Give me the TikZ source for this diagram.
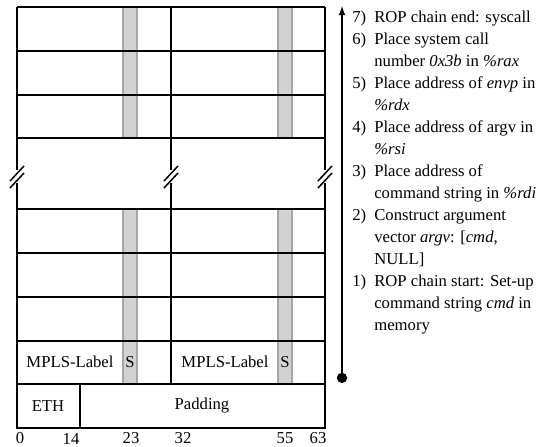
\documentclass[tikz,border=0pt]{standalone}
\usepackage{fontspec}
\setmainfont{Liberation Serif}
\usepackage{array}
\usetikzlibrary{positioning, arrows}
\tikzset{
>=latex, % arrow heads
frame/.style={line width=0.9pt}, % the lines of the table
sbit/.style={fill=gray!35, draw=gray!70, line width=0.7pt}, % the S bit columns
field/.style={inner sep=0pt, font=\fontsize{10}{13.2}\selectfont}, % text in the table
bitnum/.style={inner sep=0pt, font=\fontsize{10}{13.2}\selectfont}, % bit numbers under the table
}

\begin{document}
\begin{tikzpicture}[x=0.6pt, y=-0.6pt]
\useasboundingbox (0,0) rectangle (548,446);
% S bit columns
\foreach \x in {123,278} {
  \draw[sbit] (\x,7) rectangle (\x+14,138);
  \draw[sbit] (\x,209) rectangle (\x+14,384);
}
% rows
\foreach \y in {7,51,95,138,209,253,297,341,384} \draw[frame] (17,\y) -- (325,\y);
% columns with the break
\foreach \x in {17,171,325} {
  \draw[frame] (\x,7) -- (\x,170);
  \draw[frame] (\x,183) -- (\x,384);
  \draw[frame] (\x-7,181) -- (\x+7,166);
  \draw[frame] (\x-7,188) -- (\x+7,173);
}
% last row
\draw[frame] (17,384) -- (17,428) -- (325,428) -- (325,384);
\draw[frame] (80,384) -- (80,428);
\node[field] (lbl1) at (70,362) {MPLS-Label};
\node[field] (s1) at (130,362) {S};
\node[field] (lbl2) at (225,362) {MPLS-Label};
\node[field] (s2) at (285,362) {S};
\node[field] (eth) at (48,406) {ETH};
\node[field] (pad) at (202,406) {Padding};
% bit numbers
\node[bitnum] (b0) at (20,438.5) {0};
\node[bitnum] (b14) at (71,438.5) {14};
\node[bitnum] (b23) at (131,438.5) {23};
\node[bitnum] (b32) at (183,438.5) {32};
\node[bitnum] (b55) at (285,438.5) {55};
\node[bitnum] (b63) at (318,438.5) {63};
% ROP chain
\coordinate (ropstart) at (342,383);
\coordinate (ropend) at (342,6);
\draw[line width=0.9pt, *->] (ropstart) -- (ropend);
\node[field, anchor=north west] (steps) at (352,7) {%
\begin{tabular}{@{}p{8.6pt}@{\hspace{4.6pt}}l@{}}
7) & ROP chain end: syscall\\
6) & Place system call\\
   & number \textit{0x3b} in \textit{\%rax}\\
5) & Place address of \textit{envp} in\\
   & \textit{\%rdx}\\
4) & Place address of argv in\\
   & \textit{\%rsi}\\
3) & Place address of\\
   & command string in \textit{\%rdi}\\
2) & Construct argument\\
   & vector \textit{argv}: [\textit{cmd},\\
   & NULL]\\
1) & ROP chain start: Set-up\\
   & command string \textit{cmd} in\\
   & memory
\end{tabular}};
\end{tikzpicture}
\end{document}
